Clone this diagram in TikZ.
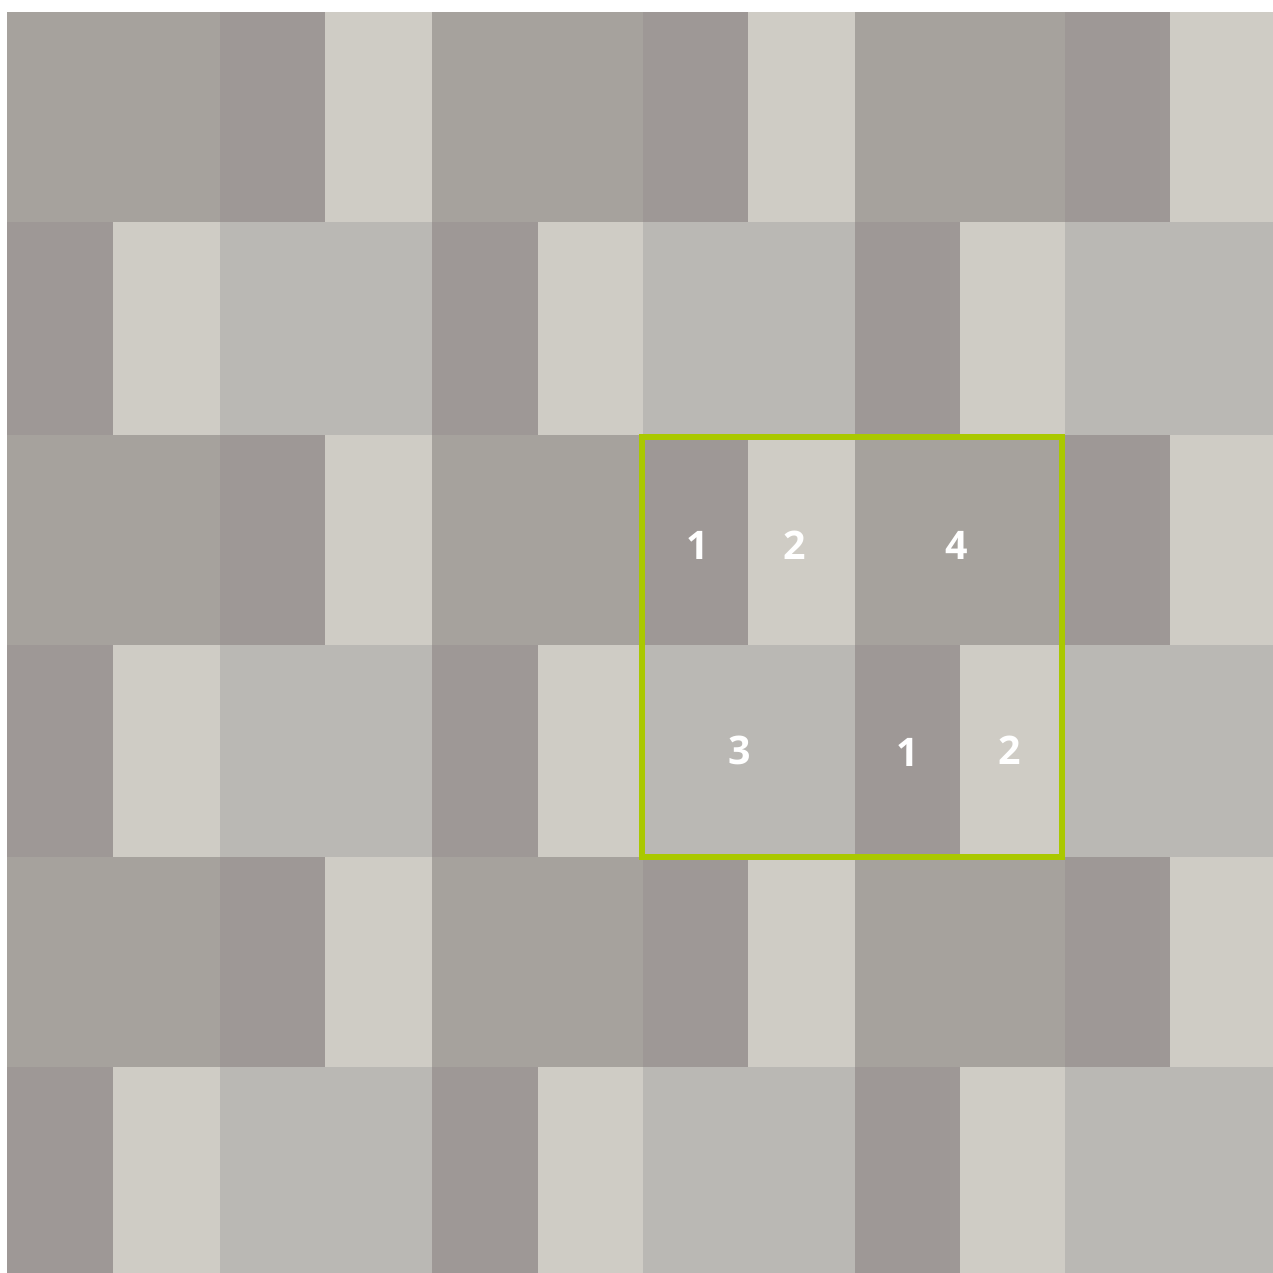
\documentclass[tikz,border=0pt]{standalone}
\usepackage{fontspec}
\setmainfont{Open Sans}
\definecolor{tDark}{RGB}{158,152,150}
\definecolor{tLight}{RGB}{207,204,197}
\definecolor{tMidL}{RGB}{186,184,180}
\definecolor{tMidD}{RGB}{166,162,157}
\definecolor{lime}{RGB}{170,200,0}
\begin{document}
\begin{tikzpicture}[x=0.1mm,y=-0.1mm,
  lab/.style={text=white,font=\bfseries\fontsize{11.2}{13}\selectfont,inner sep=0pt},
  frame/.style={draw=lime,line width=1.45pt}]
\useasboundingbox (0,0) rectangle (1273,1273);
\fill[white] (0,0) rectangle (1273,1273);
% even rows
\foreach \ya/\yb in {12/222,435/645,857/1067}{
  \foreach \xa/\xb/\c in {7/220/tMidD,220/325/tDark,325/432/tLight,432/643/tMidD,643/748/tDark,748/855/tLight,855/1065/tMidD,1065/1170/tDark,1170/1273/tLight}{
    \fill[\c] (\xa,\ya) rectangle (\xb,\yb);
  }
}
% odd rows
\foreach \ya/\yb in {222/435,645/857,1067/1273}{
  \foreach \xa/\xb/\c in {7/113/tDark,113/220/tLight,220/432/tMidL,432/538/tDark,538/643/tLight,643/855/tMidL,855/960/tDark,960/1065/tLight,1065/1273/tMidL}{
    \fill[\c] (\xa,\ya) rectangle (\xb,\yb);
  }
}
\draw[frame] (642,437) rectangle (1062,857);
\node[lab] (a1) at (698,545) {1};
\node[lab] (a2) at (795,545) {2};
\node[lab] (a4) at (957,545) {4};
\node[lab] (b3) at (740,750) {3};
\node[lab] (b1) at (908,752) {1};
\node[lab] (b2) at (1010,750) {2};
\end{tikzpicture}
\end{document}
